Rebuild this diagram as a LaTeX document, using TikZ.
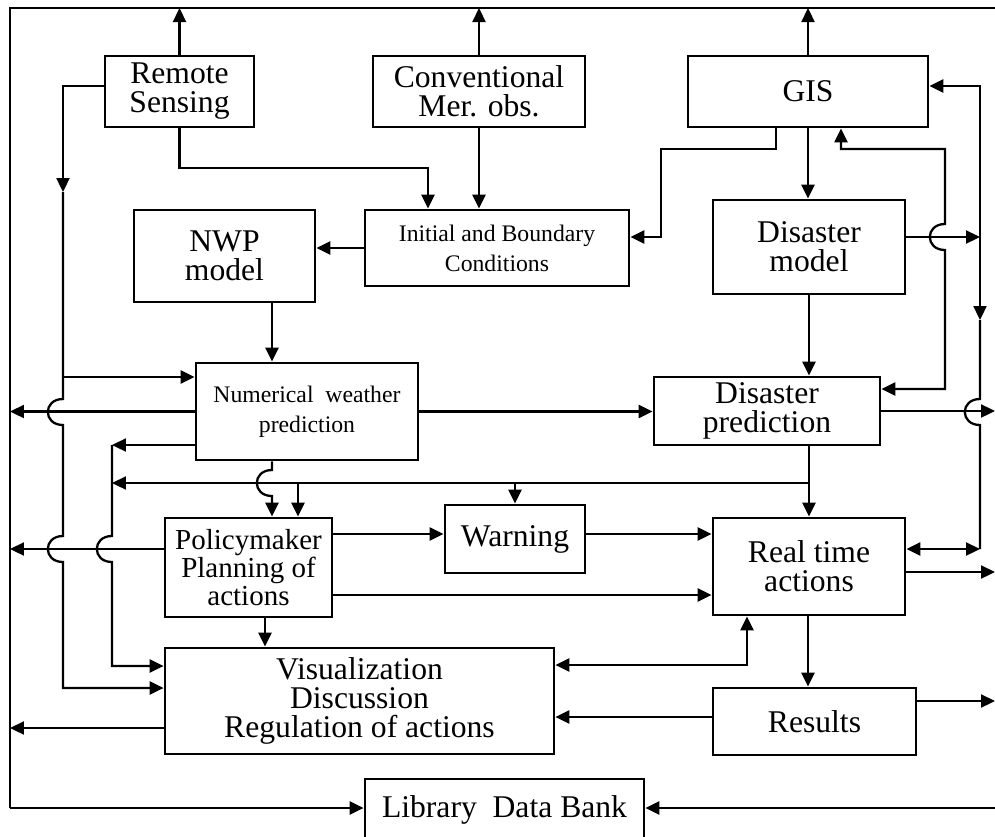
\documentclass[tikz,border=0pt]{standalone}
\usepackage{fontspec}
\setmainfont{Liberation Serif}
\usetikzlibrary{arrows.meta}

\tikzset{
  blk/.style={draw, line width=1.6pt, align=center, inner sep=1pt, font=\fontsize{18}{16.5}\selectfont},
  blks/.style={blk, font=\fontsize{13.5}{17}\selectfont},
  ln/.style={line width=1.3pt, >={Triangle[length=2.8mm,width=2.6mm]}},
  hop/.style={out=180, in=180, looseness=2},
}

\begin{document}
\begin{tikzpicture}[x=0.02cm, y=-0.02cm]
  \useasboundingbox (0,0) rectangle (995,836);

  \node[blk, minimum width=2.98cm, minimum height=1.42cm] (rs) at (179.5,91.5) {Remote\\Sensing};
  \node[blk, minimum width=4.24cm, minimum height=1.42cm] (cmo) at (479,91.5) {Conventional\\Mer. obs.};
  \node[blk, minimum width=4.8cm, minimum height=1.42cm] (gis) at (808,91.5) {GIS};
  \node[blk, minimum width=3.62cm, minimum height=1.84cm] (nwpm) at (224.5,256) {NWP\\model};
  \node[blks, minimum width=5.28cm, minimum height=1.52cm] (ibc) at (497,248) {Initial and Boundary\\Conditions};
  \node[blk, minimum width=3.84cm, minimum height=1.88cm] (dm) at (809,247) {Disaster\\model};
  \node[blks, minimum width=4.44cm, minimum height=1.94cm] (nwpp) at (307,411.5) {Numerical\ \ weather\\prediction};
  \node[blk, minimum width=4.52cm, minimum height=1.36cm] (dp) at (767,411) {Disaster\\prediction};
  \node[blk, font=\fontsize{16.5}{16}\selectfont, minimum width=3.34cm, minimum height=1.98cm] (pol) at (248.5,567.5) {Policymaker\\Planning of\\actions};
  \node[blk, minimum width=2.8cm, minimum height=1.36cm] (warn) at (515,539) {Warning};
  \node[blk, minimum width=3.84cm, minimum height=1.94cm] (rta) at (809,566.5) {Real time\\actions};
  \node[blk, minimum width=7.78cm, minimum height=2.12cm] (vis) at (359.5,701) {Visualization\\Discussion\\Regulation of actions};
  \node[blk, minimum width=4.06cm, minimum height=1.34cm] (res) at (814.5,721.5) {Results};
  \node[blk, minimum width=5.58cm, minimum height=1.22cm] (lib) at (504.5,809.5) {Library\ \ Data Bank};

  % outer frame
  \draw[ln] (10,808) -- (10,8) -- (995,8);
  \draw[ln,->] (rs.north) -- (rs.north |- 0,8);
  \draw[ln,->] (cmo.north) -- (cmo.north |- 0,8);
  \draw[ln,->] (gis.north) -- (gis.north |- 0,8);
  \draw[ln,->] (10,808) -- (lib.west |- 0,808);
  \draw[ln,->] (995,808) -- (lib.east |- 0,808);

  % observations
  \draw[ln,->] (rs.south) |- (428,168) -- (ibc.north -| 428,0);
  \draw[ln,->] (cmo.south) -- (cmo.south |- ibc.north);
  \draw[ln,->] (gis.south -| 776,0) |- (661,149) |- (ibc.east |- 0,237);
  \draw[ln,->] (gis.south) -- (gis.south |- dm.north);
  \draw[ln,->] (ibc.west) -- (ibc.west -| nwpm.east);
  \draw[ln,->] (nwpm.south -| 272,0) -- (nwpp.north -| 272,0);
  \draw[ln,<->] (gis.south -| 841,0) |- (945,149) -- (945,224) to[hop] (945,250) |- (dp.east |- 0,389);

  % right bus
  \draw[ln,->] (dm.east |- 0,237) -- (980,237);
  \draw[ln,<-] (gis.east |- 0,86) -- (980,86) -- (980,172);
  \draw[ln,->] (980,172) -- (980,320);
  \draw[ln] (980,320) -- (980,399) to[hop] (980,425) -- (980,549);
  \draw[ln,<->] (rta.east |- 0,549) -- (980,549);

  % predictions
  \draw[ln,->] (dm.south) -- (dm.south |- dp.north);
  \draw[ln,->] (nwpp.east) -- (nwpp.east -| dp.west);
  \draw[ln,->] (dp.east) -- (dp.east -| 995,0);
  \draw[ln,->] (rta.north |- dp.south) -- (rta.north);
  \draw[ln,->] (rta.north |- 0,483) -- (112,483);
  \draw[ln,->] (pol.north -| 298,0) ++(0,-35) -- (pol.north -| 298,0);
  \draw[ln,->] (warn.north |- 0,483) -- (warn.north);
  \draw[ln,->] (nwpp.south -| 272,0) -- (272,470) to[hop] (272,496) -- (pol.north -| 272,0);

  % left feeds
  \draw[ln,->] (rs.west |- 0,86) -| (63,192);
  \draw[ln,->] (63,192) -- (63,399) to[hop] (63,425) -- (63,536) to[hop] (63,562) |- (vis.west |- 0,688);
  \draw[ln,->] (63,377) -- (nwpp.west |- 0,377);
  \draw[ln,->] (nwpp.west) -- (nwpp.west -| 10,0);
  \draw[ln,->] (nwpp.west |- 0,445) -- (112,445);
  \draw[ln,->] (112,445) -- (112,536) to[hop] (112,562) |- (vis.west |- 0,666);
  \draw[ln,->] (pol.west |- 0,549) -- (10,549);

  % actions
  \draw[ln,->] (pol.east |- 0,534) -- (warn.west |- 0,534);
  \draw[ln,->] (pol.east |- 0,595) -- (rta.west |- 0,595);
  \draw[ln,->] (warn.east |- 0,534) -- (rta.west |- 0,534);
  \draw[ln,->] (pol.south -| 265,0) -- (vis.north -| 265,0);
  \draw[ln,->] (rta.east |- 0,572) -- (995,572);
  \draw[ln,->] (rta.south -| 808,0) -- (res.north -| 808,0);
  \draw[ln,<->] (vis.east |- 0,665) -| (rta.south -| 747,0);
  \draw[ln,->] (res.west |- 0,717) -- (vis.east |- 0,717);
  \draw[ln,->] (res.east |- 0,701) -- (995,701);
  \draw[ln,->] (vis.west |- 0,728) -- (10,728);
\end{tikzpicture}
\end{document}
